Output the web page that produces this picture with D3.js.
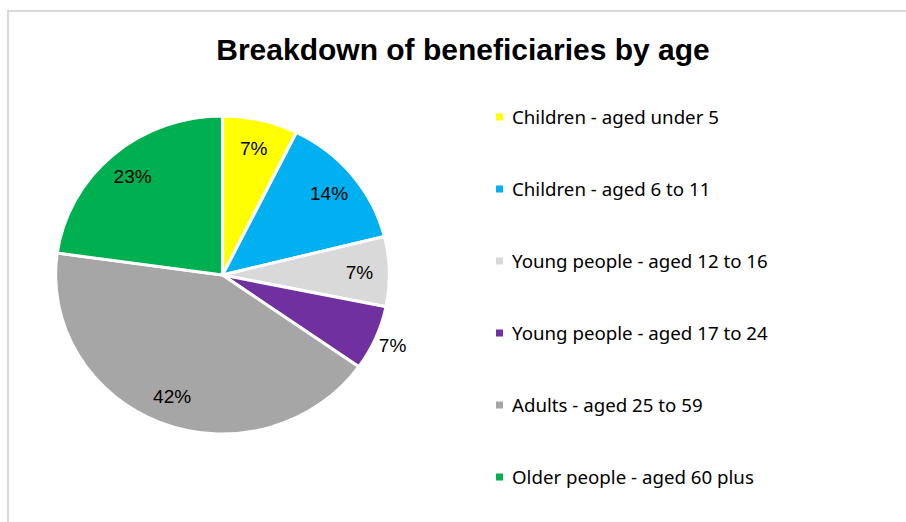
<!DOCTYPE html>
<html>
<head>
<meta charset="utf-8">
<script src="https://cdn.jsdelivr.net/npm/d3@7"></script>
<style>
    body { margin: 0; background: #fff; }
</style>
</head>
<body>
<div id="chart"></div>
<script>
// values; labels show the rounded share
const categories = [
    'Children - aged under 5',
    'Children - aged 6 to 11',
    'Young people - aged 12 to 16',
    'Young people - aged 17 to 24',
    'Adults - aged 25 to 59',
    'Older people - aged 60 plus',
];
const values = [7.3, 13.8, 7.1, 6.6, 42.4, 22.8];
const colors = ['#ffff00', '#00b0f0', '#d9d9d9', '#7030a0', '#a6a6a6', '#00b050'];
const labelOutside = [false, false, false, true, false, false];

const width = 906;
const height = 522;
const cx = 222.5;
const cy = 275;
const radius = 159;
const stretchX = 1.05; // the pie in the picture is a little wider than tall

const svg = d3.select('#chart')
    .append('svg')
    .attr('width', width)
    .attr('height', height);

// chart frame
svg.append('rect')
    .attr('x', 8)
    .attr('y', 11)
    .attr('width', width)
    .attr('height', height)
    .attr('fill', 'none')
    .attr('stroke', '#d9d9d9')
    .attr('stroke-width', 2);

svg.append('text')
    .attr('x', 463)
    .attr('y', 60)
    .attr('text-anchor', 'middle')
    .attr('font-family', 'Liberation Sans, Arial, sans-serif')
    .attr('font-weight', 'bold')
    .attr('font-size', 30)
    .attr('fill', '#000')
    .text('Breakdown of beneficiaries by age');

const total = d3.sum(values);
const pie = d3.pie().sort(null).value((d) => d.value);
const arcs = pie(values.map((v, i) => ({value: v, i: i})));

const arc = d3.arc().innerRadius(0).outerRadius(radius);
const inLabel = d3.arc().innerRadius(radius * 0.82).outerRadius(radius * 0.82);
const outLabel = d3.arc().innerRadius(radius * 1.11).outerRadius(radius * 1.11);

const pieGroup = svg.append('g')
    .attr('transform', 'translate(' + cx + ',' + cy + ') scale(' + stretchX + ',1)');

pieGroup.selectAll('path')
    .data(arcs)
    .enter()
    .append('path')
    .attr('d', arc)
    .attr('fill', (d) => colors[d.data.i])
    .attr('stroke', '#fff')
    .attr('stroke-width', 3)
    .attr('stroke-linejoin', 'round');

svg.append('g')
    .selectAll('text')
    .data(arcs)
    .enter()
    .append('text')
    .attr('transform', (d) => {
        const c = (labelOutside[d.data.i] ? outLabel : inLabel).centroid(d);
        return 'translate(' + (cx + c[0] * stretchX) + ',' + (cy + c[1]) + ')';
    })
    .attr('text-anchor', 'middle')
    .attr('dy', '0.35em')
    .attr('font-family', 'Liberation Sans, Arial, sans-serif')
    .attr('font-size', 19)
    .attr('fill', '#000')
    .text((d) => Math.round(d.data.value / total * 100) + '%');

// legend
const legendY = d3.scalePoint()
    .domain(categories)
    .range([117, 477]);

const legend = svg.append('g')
    .selectAll('g')
    .data(categories)
    .enter()
    .append('g')
    .attr('transform', (d) => 'translate(496,' + legendY(d) + ')');

legend.append('rect')
    .attr('x', 0)
    .attr('y', -3.5)
    .attr('width', 7)
    .attr('height', 7)
    .attr('fill', (d, i) => colors[i]);

legend.append('text')
    .attr('x', 16)
    .attr('dy', '0.35em')
    .attr('font-family', 'Noto Sans, sans-serif')
    .attr('font-size', 18.7)
    .attr('fill', '#000')
    .text((d) => d);
</script>
</body>
</html>
